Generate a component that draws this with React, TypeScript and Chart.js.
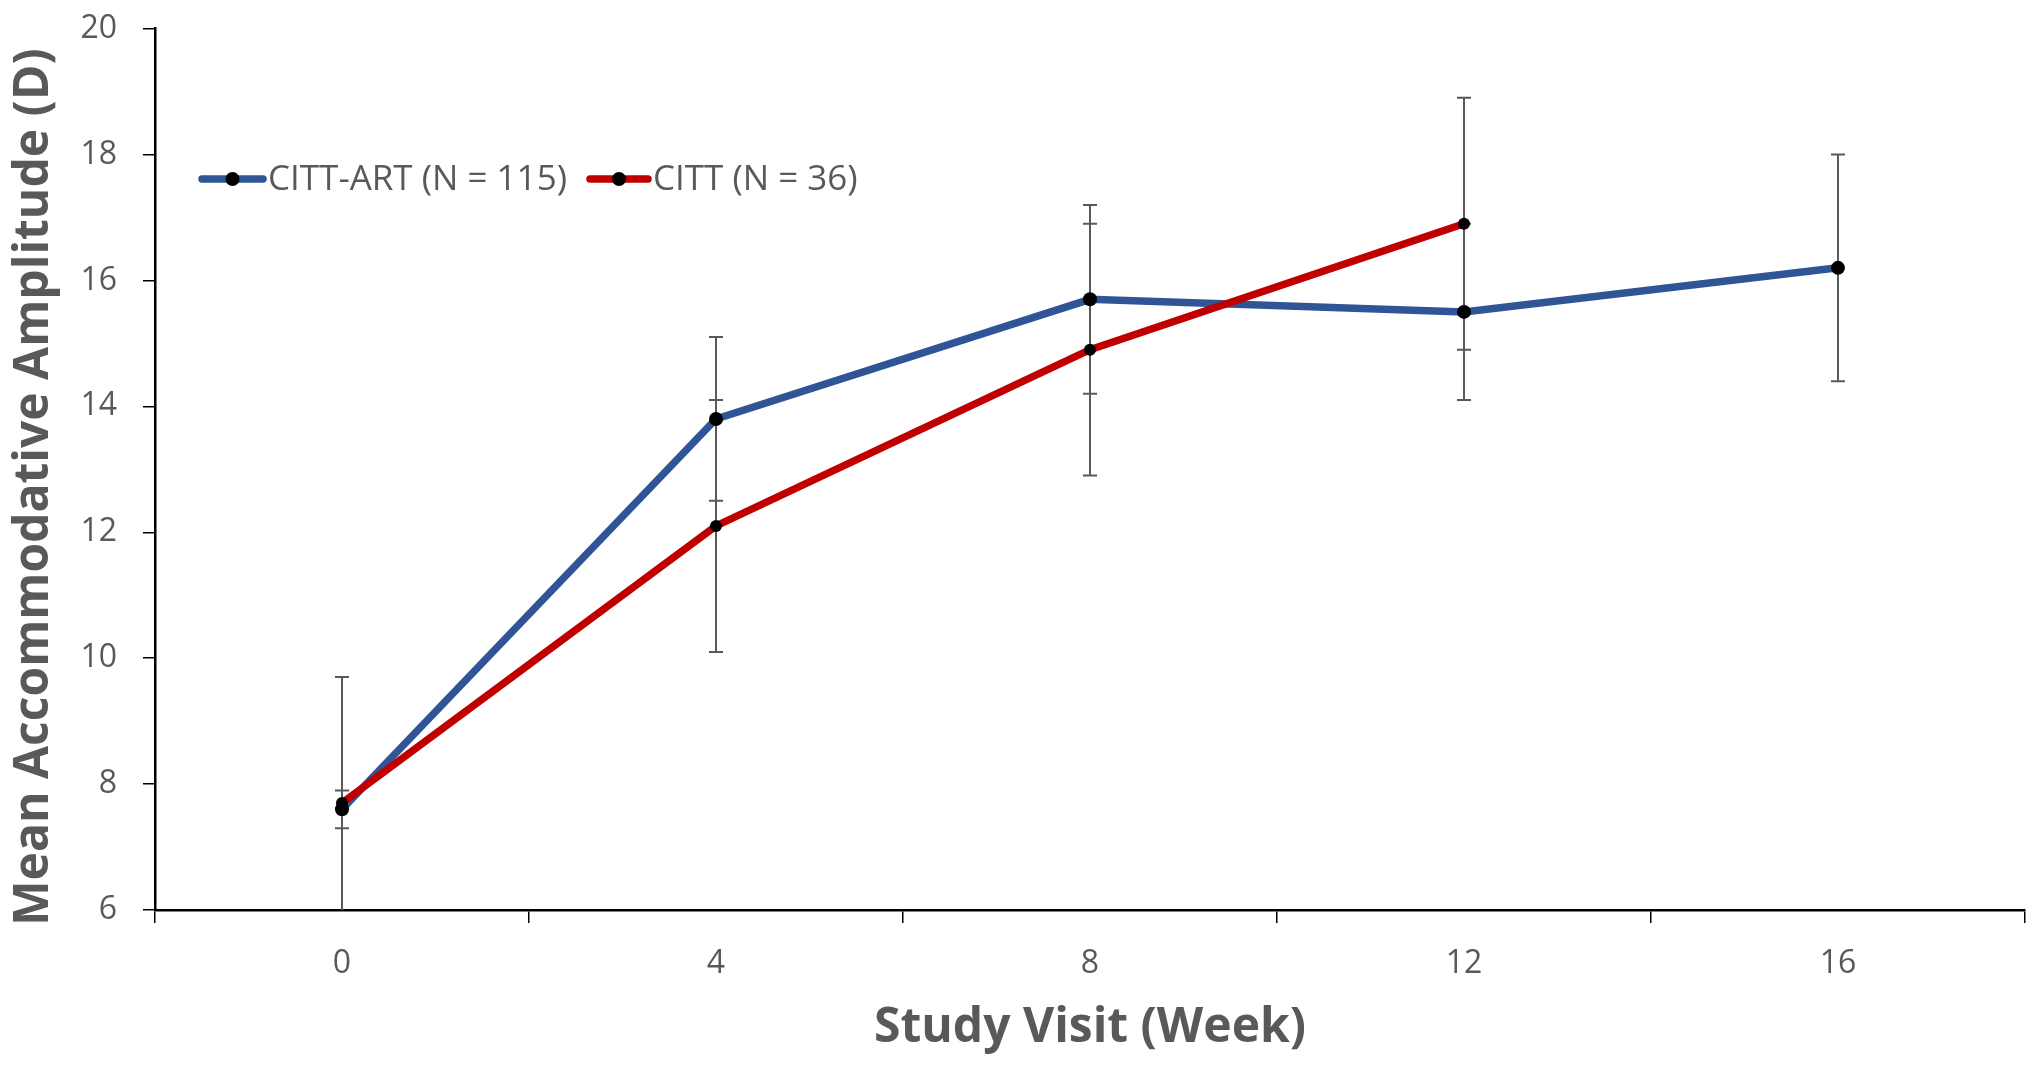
import React, { useEffect, useRef } from 'react';
import { Chart, registerables } from 'chart.js';

Chart.register(...registerables);

// ---- Data ----
const weeks = ['0', '4', '8', '12', '16'];
const cittArtLabel = 'CITT-ART (N = 115)';
const cittArtMean = [7.6, 13.8, 15.7, 15.5, 16.2];
const cittArtErr = [0.3, 1.3, 1.5, 1.4, 1.8];
const cittLabel = 'CITT (N = 36)';
const cittMean: (number | null)[] = [7.7, 12.1, 14.9, 16.9, null];
const cittErr: (number | null)[] = [2.0, 2.0, 2.0, 2.0, null];
const yMin = 6;
const yMax = 20;
const yStep = 2;
const xTitle = 'Study Visit (Week)';
const yTitle = 'Mean Accommodative Amplitude (D)';

const BLUE = '#2F5597';
const RED = '#C00000';
const GRAY = '#595959';
const FONT = '"Open Sans", "Noto Sans", sans-serif';

export default function App() {
  const ref = useRef<HTMLCanvasElement>(null);

  useEffect(() => {
    if (!ref.current) return;
    const errs = [cittArtErr, cittErr];

    const errorBars = {
      id: 'errorBars',
      beforeDatasetsDraw(chart: any) {
        const { ctx, chartArea, scales } = chart;
        ctx.save();
        ctx.beginPath();
        ctx.rect(chartArea.left, chartArea.top, chartArea.right - chartArea.left, chartArea.bottom - chartArea.top);
        ctx.clip();
        ctx.strokeStyle = GRAY;
        ctx.lineWidth = 2;
        chart.data.datasets.forEach((ds: any, di: number) => {
          const e = errs[di];
          ds.data.forEach((v: number | null, i: number) => {
            const ev = e[i];
            if (v == null || ev == null) return;
            const x = scales.x.getPixelForValue(i);
            const yT = scales.y.getPixelForValue(v + ev);
            const yB = scales.y.getPixelForValue(v - ev);
            ctx.beginPath();
            ctx.moveTo(x, yT);
            ctx.lineTo(x, yB);
            ctx.moveTo(x - 7, yT);
            ctx.lineTo(x + 7, yT);
            ctx.moveTo(x - 7, yB);
            ctx.lineTo(x + 7, yB);
            ctx.stroke();
          });
        });
        ctx.restore();
      },
    };

    const overlay = {
      id: 'overlay',
      afterDraw(chart: any) {
        const { ctx, chartArea } = chart;
        ctx.save();
        // Axis titles
        ctx.fillStyle = GRAY;
        ctx.font = `bold 48px ${FONT}`;
        ctx.textAlign = 'center';
        ctx.textBaseline = 'middle';
        ctx.fillText(xTitle, (chartArea.left + chartArea.right) / 2, 1028);
        ctx.save();
        ctx.translate(34, 487);
        ctx.rotate(-Math.PI / 2);
        ctx.fillText(yTitle, 0, 0);
        ctx.restore();

        // Legend
        const items = [
          { label: cittArtLabel, color: BLUE, x0: 202, x1: 263 },
          { label: cittLabel, color: RED, x0: 590, x1: 648 },
        ];
        const ly = 179;
        ctx.font = `35px ${FONT}`;
        ctx.textAlign = 'left';
        items.forEach((it) => {
          ctx.strokeStyle = it.color;
          ctx.lineWidth = 7.5;
          ctx.lineCap = 'round';
          ctx.beginPath();
          ctx.moveTo(it.x0, ly);
          ctx.lineTo(it.x1, ly);
          ctx.stroke();
          ctx.fillStyle = '#000';
          ctx.beginPath();
          ctx.arc((it.x0 + it.x1) / 2, ly, 7, 0, Math.PI * 2);
          ctx.fill();
          ctx.fillStyle = GRAY;
          ctx.fillText(it.label, it.x1 + 5, ly + 1);
        });
        ctx.restore();
      },
    };

    const chart = new Chart(ref.current, {
      type: 'line',
      data: {
        labels: weeks,
        datasets: [
          {
            label: cittArtLabel,
            data: cittArtMean,
            borderColor: BLUE,
            borderWidth: 7.5,
            pointBackgroundColor: '#000',
            pointBorderColor: '#000',
            pointBorderWidth: 0,
            pointRadius: 7,
            tension: 0,
            order: 1,
          },
          {
            label: cittLabel,
            data: cittMean,
            borderColor: RED,
            borderWidth: 7.5,
            pointBackgroundColor: '#000',
            pointBorderColor: '#000',
            pointBorderWidth: 0,
            pointRadius: 6,
            tension: 0,
            order: 0,
          },
        ],
      },
      options: {
        animation: false,
        responsive: true,
        maintainAspectRatio: false,
        layout: { padding: { top: 28.6, right: 15, left: 0, bottom: 0 } },
        plugins: {
          legend: { display: false },
          tooltip: { enabled: false },
        },
        scales: {
          x: {
            type: 'category',
            offset: true,
            grid: {
              offset: true,
              drawOnChartArea: false,
              drawTicks: true,
              tickLength: 13,
              color: '#000',
              lineWidth: 1.5,
            },
            border: { color: '#000', width: 2.5 },
            ticks: {
              color: GRAY,
              font: { family: FONT, size: 32 },
              padding: 22,
              maxRotation: 0,
            },
            afterFit(scale: any) {
              scale.height = 155;
              scale.paddingLeft = 0;
              scale.paddingRight = 0;
            },
          },
          y: {
            min: yMin,
            max: yMax,
            grid: {
              drawOnChartArea: false,
              drawTicks: true,
              tickLength: 12,
              color: '#000',
              lineWidth: 1.5,
            },
            border: { color: '#000', width: 2.5 },
            ticks: {
              stepSize: yStep,
              color: GRAY,
              font: { family: FONT, size: 32 },
              padding: 26,
            },
            afterFit(scale: any) {
              scale.width = 155;
              scale.paddingTop = 0;
              scale.paddingBottom = 0;
            },
          },
        },
      },
      plugins: [errorBars, overlay],
    });

    return () => chart.destroy();
  }, []);

  return (
    <div style={{ position: 'fixed', left: 0, top: 0, width: 2040, height: 1065, background: '#fff' }}>
      <canvas ref={ref} />
    </div>
  );
}
